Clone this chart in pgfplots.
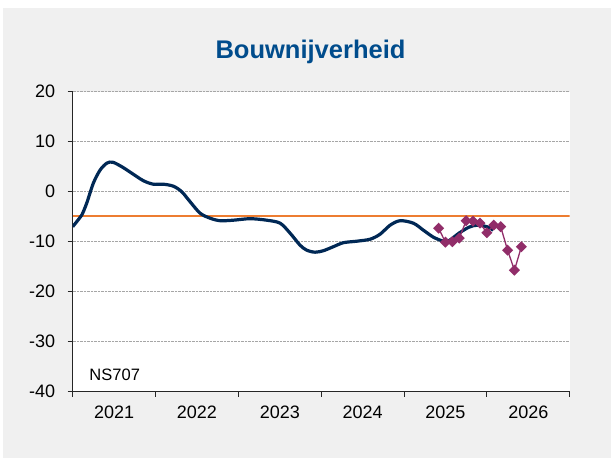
\documentclass[border=0pt]{standalone}
\usepackage{pgfplots}
\pgfplotsset{compat=1.18}
\usepackage{fontspec}
\setmainfont{Liberation Sans}
\definecolor{titleblue}{RGB}{0,76,140}
\definecolor{navy}{RGB}{0,40,85}
\definecolor{exorange}{RGB}{237,125,49}
\definecolor{plum}{RGB}{145,45,105}
\definecolor{panel}{RGB}{240,240,240}

\begin{document}
\begin{tikzpicture}
% page and grey panel
\fill[white] (-72.7pt,-66.3pt) rectangle (538.3pt,391.7pt);
\fill[panel] (-69.7pt,-66.3pt) rectangle (538.3pt,383.7pt);
\begin{axis}[
    at={(0pt,0pt)}, anchor=south west,
    scale only axis, width=497pt, height=300pt,
    xmin=2021, xmax=2027, ymin=-40, ymax=20,
    axis x line*=bottom, axis y line*=left,
    axis line style={black!85, line width=0.9pt},
    axis background/.style={fill=white},
    ytick={-40,-30,-20,-10,0,10,20},
    xtick={2021.5,2022.5,2023.5,2024.5,2025.5,2026.5},
    xticklabels={2021,2022,2023,2024,2025,2026},
    minor xtick={2021,2022,2023,2024,2025,2026,2027},
    major x tick style={draw=none},
    tick align=outside,
    tick style={black!85, line width=0.8pt},
    major tick length=5pt, minor tick length=5pt,
    ymajorgrids,
    grid style={densely dotted, black!35, line width=0.7pt},
    ticklabel style={font=\fontsize{18}{18}\selectfont},
    yticklabel style={xshift=-9pt},
    xticklabel style={yshift=-6pt},
    /pgf/number format/assume math mode=true,
]
% reference line
\addplot[exorange, line width=2pt] coordinates {(2021,-4.8) (2027,-4.8)};
% smoothed indicator
\addplot[navy, line width=3.2pt, smooth, tension=0.5] coordinates {
(2021.000,-7.0) (2021.068,-5.6) (2021.109,-4.7) (2021.169,-2.3) (2021.249,1.7)
(2021.330,4.3) (2021.411,5.7) (2021.483,5.9) (2021.592,5.0) (2021.713,3.7)
(2021.853,2.2) (2021.973,1.5) (2022.094,1.5) (2022.215,1.1) (2022.316,0.0)
(2022.417,-2.0) (2022.538,-4.3) (2022.659,-5.3) (2022.779,-5.8) (2022.940,-5.7)
(2023.142,-5.4) (2023.343,-5.7) (2023.504,-6.3) (2023.625,-8.3) (2023.745,-10.7)
(2023.826,-11.7) (2023.926,-12.1) (2024.027,-11.8) (2024.147,-11.0) (2024.268,-10.2)
(2024.430,-9.9) (2024.591,-9.5) (2024.711,-8.5) (2024.832,-6.7) (2024.953,-5.8)
(2025.113,-6.3) (2025.234,-7.7) (2025.355,-9.1) (2025.476,-9.9) (2025.542,-9.8)
(2025.663,-8.3) (2025.784,-7.1) (2025.881,-6.7) (2026.000,-7.0) (2026.076,-7.7)
};
% monthly values
\addplot[plum, line width=1.3pt, mark=diamond*, mark size=4.6pt,
    mark options={xscale=1.33, solid}] coordinates {
(2025.417,-7.3) (2025.500,-10.1) (2025.583,-10.0) (2025.667,-9.3)
(2025.750,-5.8) (2025.833,-5.9) (2025.917,-6.3) (2026.000,-8.2)
(2026.083,-6.7) (2026.167,-7.0) (2026.250,-11.7) (2026.333,-15.7)
(2026.417,-11.0)
};
\end{axis}
\node[anchor=base, font=\bfseries\fontsize{25.5}{25.5}\selectfont, text=titleblue]
    at (237.8pt,333.4pt) {Bouwnijverheid};
\node[anchor=base west, inner sep=0pt, font=\fontsize{16.5}{16.5}\selectfont]
    at (16.6pt,11pt) {NS707};
\end{tikzpicture}
\end{document}
